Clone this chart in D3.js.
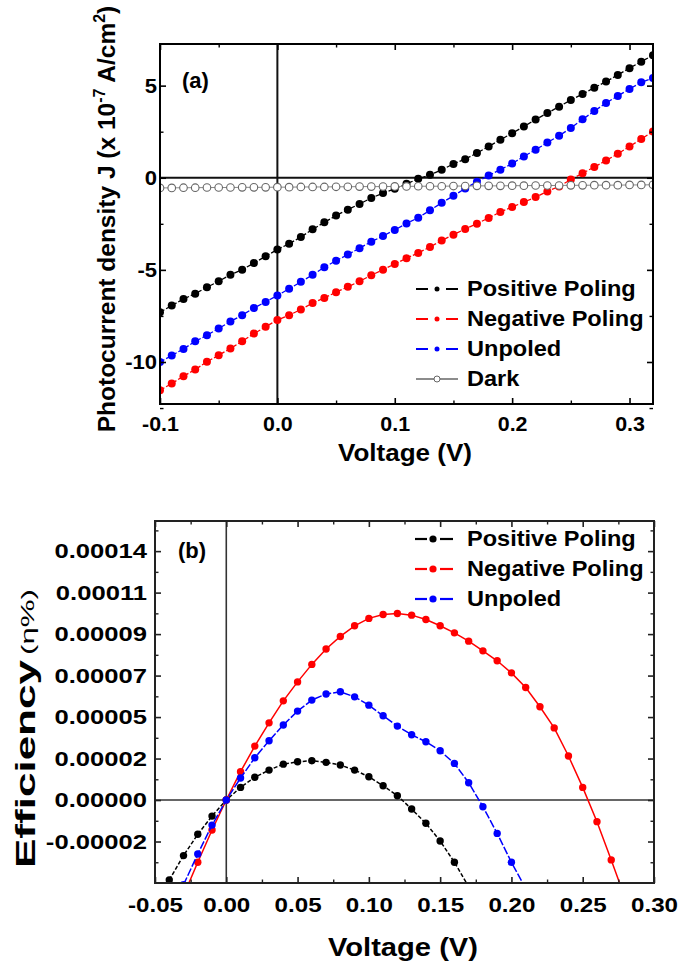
<!DOCTYPE html>
<html>
<head>
<meta charset="utf-8">
<script src="https://cdn.jsdelivr.net/npm/d3@7"></script>
<style>
  body { margin: 0; background: #fff; }
  svg { display: block; font-family: "Liberation Sans", Arial, sans-serif; font-weight: bold; }
</style>
</head>
<body>
<svg id="chart" width="681" height="968"></svg>
<script>
// ---------- panel (a): photocurrent density vs voltage ----------
const voltA = [-0.10, -0.09, -0.08, -0.07, -0.06, -0.05, -0.04, -0.03, -0.02, -0.01,
  0.00, 0.01, 0.02, 0.03, 0.04, 0.05, 0.06, 0.07, 0.08, 0.09,
  0.10, 0.11, 0.12, 0.13, 0.14, 0.15, 0.16, 0.17, 0.18, 0.19,
  0.20, 0.21, 0.22, 0.23, 0.24, 0.25, 0.26, 0.27, 0.28, 0.29,
  0.30, 0.31, 0.32];
const jPositive = [-7.30, -6.94, -6.58, -6.29, -5.94, -5.62, -5.26, -4.99, -4.63, -4.26,
  -3.90, -3.58, -3.22, -2.80, -2.42, -2.05, -1.73, -1.42, -1.10, -0.83,
  -0.60, -0.33, -0.06, 0.16, 0.43, 0.75, 1.01, 1.34, 1.70, 2.06,
  2.42, 2.78, 3.16, 3.51, 3.86, 4.22, 4.54, 4.89, 5.22, 5.58,
  5.95, 6.30, 6.65];
const jNegative = [-11.53, -11.17, -10.77, -10.41, -9.99, -9.63, -9.27, -8.87, -8.46, -8.09,
  -7.72, -7.46, -7.15, -6.80, -6.52, -6.21, -5.92, -5.62, -5.29, -4.99,
  -4.68, -4.37, -4.08, -3.76, -3.40, -3.09, -2.78, -2.49, -2.18, -1.86,
  -1.59, -1.32, -1.05, -0.74, -0.47, -0.10, 0.25, 0.58, 0.94, 1.30,
  1.70, 2.10, 2.51];
const jUnpoled = [-10.00, -9.65, -9.29, -8.88, -8.55, -8.18, -7.80, -7.46, -7.07, -6.74,
  -6.39, -6.03, -5.65, -5.27, -4.86, -4.50, -4.17, -3.82, -3.47, -3.16,
  -2.83, -2.48, -2.17, -1.77, -1.36, -0.98, -0.58, -0.22, 0.12, 0.44,
  0.77, 1.16, 1.52, 1.91, 2.28, 2.70, 3.17, 3.62, 4.06, 4.44,
  4.82, 5.18, 5.42];
const jDark = [-0.55, -0.55, -0.54, -0.54, -0.53, -0.53, -0.53, -0.52, -0.52, -0.52,
  -0.51, -0.51, -0.50, -0.50, -0.50, -0.49, -0.49, -0.48, -0.48, -0.48,
  -0.47, -0.47, -0.46, -0.46, -0.46, -0.45, -0.45, -0.44, -0.44, -0.44,
  -0.43, -0.43, -0.42, -0.42, -0.42, -0.41, -0.41, -0.40, -0.40, -0.40,
  -0.39, -0.39, -0.38];
const xTicksA = [-0.1, 0.0, 0.1, 0.2, 0.3];
const xMinorA = [-0.05, 0.05, 0.15, 0.25];
const yTicksA = [-10, -5, 0, 5];
const yMinorA = [-12.5, -7.5, -2.5, 2.5];
const legendA = ["Positive Poling", "Negative Poling", "Unpoled", "Dark"];

// ---------- panel (b): efficiency vs voltage (values in units of 1e-5 %) ----------
const voltPosB = [-0.04, -0.03, -0.02, -0.01, 0.00, 0.01, 0.02, 0.03, 0.04, 0.05, 0.06,
  0.07, 0.08, 0.09, 0.10, 0.11, 0.12, 0.13, 0.14, 0.15, 0.16, 0.17];
const effPos = [-4.43, -3.08, -1.90, -0.89, 0, 0.70, 1.26, 1.66, 1.99, 2.12, 2.18,
  2.09, 1.94, 1.66, 1.29, 0.79, 0.24, -0.50, -1.29, -2.27, -3.45, -4.80];
const voltNegB = [-0.03, -0.02, -0.01, 0.00, 0.01, 0.02, 0.03, 0.04, 0.05, 0.06, 0.07,
  0.08, 0.09, 0.10, 0.11, 0.12, 0.13, 0.14, 0.15, 0.16, 0.17, 0.18,
  0.19, 0.20, 0.21, 0.22, 0.23, 0.24, 0.25, 0.26, 0.27, 0.28];
const effNeg = [-5.30, -3.45, -1.66, 0, 1.57, 2.99, 4.28, 5.50, 6.55, 7.52, 8.37,
  9.07, 9.66, 10.07, 10.29, 10.34, 10.25, 10.01, 9.66, 9.27, 8.81, 8.27,
  7.72, 7.05, 6.24, 5.17, 4.00, 2.44, 0.70, -1.20, -3.32, -5.50];
const voltUnpB = [-0.03, -0.02, -0.01, 0.00, 0.01, 0.02, 0.03, 0.04, 0.05, 0.06, 0.07,
  0.08, 0.09, 0.10, 0.11, 0.12, 0.13, 0.14, 0.15, 0.16, 0.17, 0.18,
  0.19, 0.20, 0.21];
const effUnp = [-4.70, -2.99, -1.39, 0, 1.22, 2.34, 3.29, 4.16, 4.93, 5.54, 5.88,
  6.00, 5.72, 5.26, 4.67, 4.10, 3.62, 3.23, 2.73, 2.03, 0.96, -0.37,
  -1.85, -3.45, -4.90];
const xTicksB = [-0.05, 0.00, 0.05, 0.10, 0.15, 0.20, 0.25, 0.30];
const xMinorB = [-0.025, 0.025, 0.075, 0.125, 0.175, 0.225, 0.275];
const yTicksB = [-2.3, 0, 2.3, 4.6, 6.9, 9.2, 11.5, 13.8];
const yLabelsB = ["-0.00002", "0.00000", "0.00002", "0.00005", "0.00007", "0.00009", "0.00011", "0.00014"];
const yMinorB = [-3.45, -1.15, 1.15, 3.45, 5.75, 8.05, 10.35, 12.65, 14.95];
const legendB = ["Positive Poling", "Negative Poling", "Unpoled"];

const svg = d3.select("#chart");

// plain hyphen instead of d3's unicode minus
const fmt = spec => d => d3.format(spec)(d).replace("\u2212", "-");

// make a text wider than the font draws it (the figure is stretched)
function stretch(sel, k) {
  sel.each(function() {
    const w = this.getComputedTextLength();
    d3.select(this).attr("textLength", w * k).attr("lengthAdjust", "spacingAndGlyphs");
  });
}

// ticks on all four sides, pointing inwards
function drawAxes(g, x, y, o) {
  const [x0, x1] = x.range();
  const [yb, yt] = y.range();
  const sides = [
    [d3.axisBottom, x, `translate(0,${yb})`, o.xMajor, o.xMinor, o.xFormat, o.xPad],
    [d3.axisTop, x, `translate(0,${yt})`, o.xMajor, o.xMinor, null, 0],
    [d3.axisLeft, y, `translate(${x0},0)`, o.yMajor, o.yMinor, o.yFormat, o.yPad],
    [d3.axisRight, y, `translate(${x1},0)`, o.yMajor, o.yMinor, null, 0]
  ];
  sides.forEach(([axisFn, sc, tr, major, minor, format, pad], i) => {
    const isX = i < 2;
    const ag = g.append("g").attr("transform", tr)
      .call(axisFn(sc).tickValues(major).tickSize(-6).tickPadding(pad)
        .tickFormat(format ? format : () => ""));
    ag.attr("font-family", null).attr("font-size", null);
    ag.select(".domain").remove();
    ag.selectAll(".tick line").attr("stroke", o.color).attr("stroke-width", 1.6);
    ag.selectAll("text").attr("fill", "#000").attr("font-size", isX ? o.xFont : o.yFont);
    if (format) stretch(ag.selectAll("text"), isX ? o.xStretch : o.yStretch);

    const mg = g.append("g").attr("transform", tr)
      .call(axisFn(sc).tickValues(minor).tickSize(-3.5).tickFormat(() => ""));
    mg.select(".domain").remove();
    mg.selectAll(".tick line").attr("stroke", o.color).attr("stroke-width", 1.4);
  });
  g.append("rect")
    .attr("x", x0).attr("y", yt)
    .attr("width", x1 - x0).attr("height", yb - yt)
    .attr("fill", "none").attr("stroke", o.color).attr("stroke-width", 2);
}

// =================== panel (a) ===================
const xA = d3.scaleLinear().domain([-0.1, 0.32]).range([160, 653]);
const yA = d3.scaleLinear().domain([-12.28, 7.26]).range([404, 44]);
const gA = svg.append("g");

gA.append("clipPath").attr("id", "clipA").append("rect")
  .attr("x", 160).attr("y", 44).attr("width", 493).attr("height", 360);

// zero lines
gA.append("line").attr("x1", xA(0)).attr("x2", xA(0)).attr("y1", yA.range()[1]).attr("y2", yA.range()[0])
  .attr("stroke", "#111").attr("stroke-width", 2);
gA.append("line").attr("x1", xA.range()[0]).attr("x2", xA.range()[1]).attr("y1", yA(0)).attr("y2", yA(0))
  .attr("stroke", "#111").attr("stroke-width", 2);

const seriesA = [
  { name: legendA[0], values: jPositive, color: "#000" },
  { name: legendA[1], values: jNegative, color: "#ff0000" },
  { name: legendA[2], values: jUnpoled, color: "#0000ff" }
];
const plotA = gA.append("g").attr("clip-path", "url(#clipA)");
const lineA = d3.line().x((d, i) => xA(voltA[i])).y(d => yA(d));

seriesA.forEach(s => {
  plotA.append("path").datum(s.values).attr("d", lineA)
    .attr("fill", "none").attr("stroke", s.color).attr("stroke-width", 1.3)
    .attr("stroke-dasharray", "5,2");
  plotA.selectAll(null).data(s.values).join("circle")
    .attr("cx", (d, i) => xA(voltA[i])).attr("cy", d => yA(d))
    .attr("r", 4).attr("fill", s.color);
});
// dark current: open circles
plotA.append("path").datum(jDark).attr("d", lineA)
  .attr("fill", "none").attr("stroke", "#888").attr("stroke-width", 1);
plotA.selectAll(null).data(jDark).join("circle")
  .attr("cx", (d, i) => xA(voltA[i])).attr("cy", d => yA(d))
  .attr("r", 3.8).attr("fill", "#fff").attr("stroke", "#666").attr("stroke-width", 1.1);

drawAxes(gA, xA, yA, {
  xMajor: xTicksA, xMinor: xMinorA, xFormat: fmt(".1f"), xPad: 12, xFont: 21, xStretch: 1.02,
  yMajor: yTicksA, yMinor: yMinorA, yFormat: fmt("d"), yPad: 3, yFont: 21, yStretch: 1.05,
  color: "#000"
});

gA.append("text").attr("x", 182).attr("y", 88).attr("font-size", 22).text("(a)");

// axis titles
gA.append("text").attr("x", 405).attr("y", 461).attr("text-anchor", "middle")
  .attr("font-size", 23.5).attr("textLength", 134).attr("lengthAdjust", "spacingAndGlyphs")
  .text("Voltage (V)");

const yTitleA = gA.append("text")
  .attr("transform", "translate(115,219) rotate(-90)")
  .attr("text-anchor", "middle").attr("font-size", 24.5);
yTitleA.append("tspan").text("Photocurrent density J (x 10");
yTitleA.append("tspan").attr("dy", -10).attr("font-size", 16).text("-7");
yTitleA.append("tspan").attr("dy", 10).text(" A/cm");
yTitleA.append("tspan").attr("dy", -10).attr("font-size", 16).text("2");
yTitleA.append("tspan").attr("dy", 10).text(")");

// legend (a)
const legA = gA.append("g");
[...seriesA, { name: legendA[3], color: "#777", dark: true }].forEach((s, i) => {
  const cy = 289 + i * 30;
  if (s.dark) {
    legA.append("line").attr("x1", 416).attr("x2", 458).attr("y1", cy).attr("y2", cy)
      .attr("stroke", "#666").attr("stroke-width", 1.3);
    legA.append("circle").attr("cx", 437).attr("cy", cy).attr("r", 3)
      .attr("fill", "#fff").attr("stroke", "#666").attr("stroke-width", 1);
  } else {
    legA.append("line").attr("x1", 416).attr("x2", 428).attr("y1", cy).attr("y2", cy)
      .attr("stroke", s.color).attr("stroke-width", 2);
    legA.append("line").attr("x1", 446).attr("x2", 458).attr("y1", cy).attr("y2", cy)
      .attr("stroke", s.color).attr("stroke-width", 2);
    legA.append("circle").attr("cx", 437).attr("cy", cy).attr("r", 2.5).attr("fill", s.color);
  }
  const t = legA.append("text").attr("x", 467).attr("y", cy + 7).attr("font-size", 22).text(s.name);
  stretch(t, 1.07);
});

// =================== panel (b) ===================
const xB = d3.scaleLinear().domain([-0.05, 0.30]).range([155, 654]);
const yB = d3.scaleLinear().domain([-4.6, 15.47]).range([883, 521]);
const gB = svg.append("g");

gB.append("clipPath").attr("id", "clipB").append("rect")
  .attr("x", 155).attr("y", 521).attr("width", 499).attr("height", 362);

gB.append("line").attr("x1", xB(0)).attr("x2", xB(0)).attr("y1", yB.range()[1]).attr("y2", yB.range()[0])
  .attr("stroke", "#333").attr("stroke-width", 1.6);
gB.append("line").attr("x1", xB.range()[0]).attr("x2", xB.range()[1]).attr("y1", yB(0)).attr("y2", yB(0))
  .attr("stroke", "#333").attr("stroke-width", 1.6);

const seriesB = [
  { name: legendB[0], volts: voltPosB, values: effPos, color: "#000", dash: "4,2" },
  { name: legendB[1], volts: voltNegB, values: effNeg, color: "#ff0000", dash: null },
  { name: legendB[2], volts: voltUnpB, values: effUnp, color: "#0000ff", dash: "8,2" }
];
const plotB = gB.append("g").attr("clip-path", "url(#clipB)");

seriesB.forEach(s => {
  const line = d3.line().x((d, i) => xB(s.volts[i])).y(d => yB(d));
  plotB.append("path").datum(s.values).attr("d", line)
    .attr("fill", "none").attr("stroke", s.color).attr("stroke-width", 1.5)
    .attr("stroke-dasharray", s.dash);
  plotB.selectAll(null).data(s.values).join("circle")
    .attr("cx", (d, i) => xB(s.volts[i])).attr("cy", d => yB(d))
    .attr("r", 3.7).attr("fill", s.color);
});

drawAxes(gB, xB, yB, {
  xMajor: xTicksB, xMinor: xMinorB, xFormat: fmt(".2f"), xPad: 14, xFont: 21, xStretch: 1.15,
  yMajor: yTicksB, yMinor: yMinorB, yFormat: (d, i) => yLabelsB[i], yPad: 8, yFont: 21, yStretch: 1.22,
  color: "#222"
});

gB.append("text").attr("x", 178).attr("y", 558).attr("font-size", 22).text("(b)");

gB.append("text").attr("x", 403).attr("y", 956).attr("text-anchor", "middle")
  .attr("font-size", 25).attr("textLength", 150).attr("lengthAdjust", "spacingAndGlyphs")
  .text("Voltage (V)");

gB.append("text").attr("transform", "translate(35,868) rotate(-90)")
  .attr("font-size", 27).attr("textLength", 208).attr("lengthAdjust", "spacingAndGlyphs")
  .text("Efficiency");
gB.append("text").attr("transform", "translate(34,655) rotate(-90)")
  .attr("font-size", 19).attr("font-weight", "normal")
  .attr("textLength", 66).attr("lengthAdjust", "spacingAndGlyphs")
  .text("(\u03B7%)");

// legend (b)
const legB = gB.append("g");
seriesB.forEach((s, i) => {
  const cy = 539 + i * 30;
  legB.append("line").attr("x1", 415).attr("x2", 427).attr("y1", cy).attr("y2", cy)
    .attr("stroke", s.color).attr("stroke-width", 2.2);
  legB.append("line").attr("x1", 440).attr("x2", 453).attr("y1", cy).attr("y2", cy)
    .attr("stroke", s.color).attr("stroke-width", 2.2);
  legB.append("circle").attr("cx", 433).attr("cy", cy).attr("r", 3.6).attr("fill", s.color);
  const t = legB.append("text").attr("x", 467).attr("y", cy + 7).attr("font-size", 22).text(s.name);
  stretch(t, 1.07);
});
</script>
</body>
</html>
